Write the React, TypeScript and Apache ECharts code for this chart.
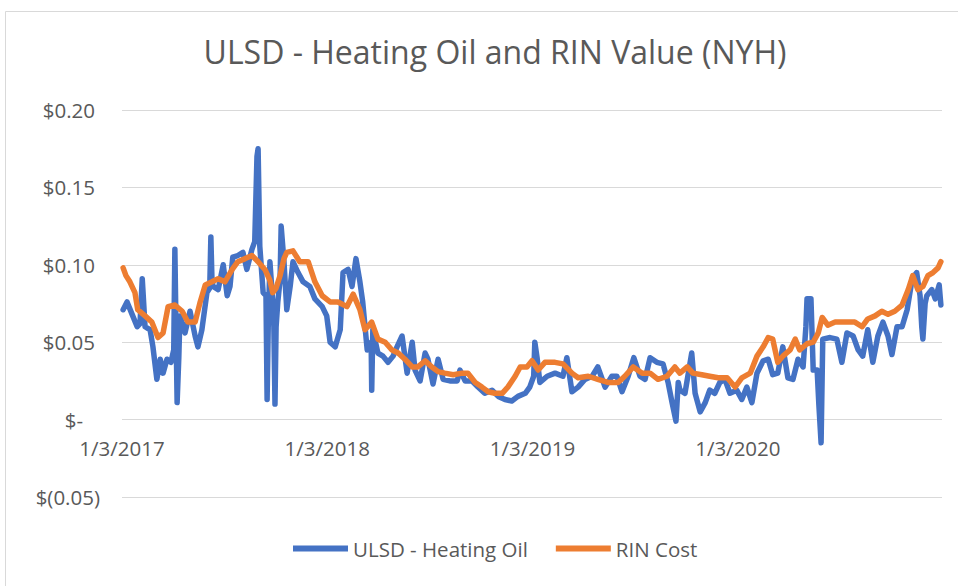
import React, { useEffect, useRef } from "react";
import * as echarts from "echarts";

// Day offsets since 1/3/2017 and values ($/gal)
const ulsdDays = [2, 9, 18, 27, 32, 36, 41, 50, 55, 62, 68, 73, 80, 87, 92, 94, 96, 98, 101, 103, 112, 121, 130, 135, 142, 151, 156, 158, 160, 162, 171, 180, 187, 192, 197, 206, 215, 222, 231, 236, 240, 242, 245, 251, 256, 258, 260, 263, 268, 270, 272, 274, 277, 281, 283, 288, 293, 299, 304, 313, 322, 334, 343, 356, 364, 370, 379, 388, 393, 402, 409, 416, 423, 428, 436, 443, 444, 446, 455, 464, 473, 482, 489, 498, 507, 516, 521, 530, 539, 544, 553, 562, 571, 583, 596, 601, 610, 622, 633, 645, 658, 669, 681, 693, 704, 717, 725, 732, 734, 738, 743, 756, 770, 784, 791, 800, 811, 823, 836, 846, 859, 871, 880, 889, 900, 910, 921, 930, 939, 951, 962, 971, 978, 985, 989, 992, 1001, 1013, 1019, 1028, 1037, 1045, 1054, 1063, 1072, 1081, 1093, 1102, 1111, 1120, 1129, 1140, 1149, 1157, 1166, 1175, 1184, 1193, 1202, 1211, 1216, 1218, 1225, 1229, 1236, 1239, 1243, 1246, 1259, 1271, 1280, 1289, 1300, 1309, 1317, 1326, 1335, 1344, 1353, 1362, 1369, 1378, 1387, 1396, 1405, 1413, 1419, 1422, 1424, 1428, 1431, 1440, 1446, 1453, 1456];
const ulsdValues = [0.071, 0.076, 0.068, 0.060, 0.062, 0.091, 0.060, 0.058, 0.047, 0.026, 0.039, 0.030, 0.039, 0.037, 0.045, 0.110, 0.060, 0.011, 0.040, 0.067, 0.056, 0.070, 0.054, 0.047, 0.058, 0.082, 0.085, 0.118, 0.090, 0.086, 0.084, 0.100, 0.080, 0.086, 0.105, 0.106, 0.108, 0.097, 0.110, 0.115, 0.170, 0.175, 0.112, 0.082, 0.080, 0.013, 0.060, 0.102, 0.076, 0.060, 0.010, 0.060, 0.076, 0.090, 0.125, 0.102, 0.071, 0.086, 0.102, 0.095, 0.089, 0.086, 0.078, 0.073, 0.067, 0.050, 0.047, 0.058, 0.095, 0.097, 0.086, 0.104, 0.089, 0.076, 0.045, 0.050, 0.019, 0.058, 0.043, 0.041, 0.037, 0.041, 0.047, 0.054, 0.030, 0.050, 0.032, 0.025, 0.043, 0.039, 0.023, 0.039, 0.026, 0.025, 0.025, 0.032, 0.025, 0.025, 0.021, 0.017, 0.019, 0.015, 0.013, 0.012, 0.015, 0.017, 0.021, 0.028, 0.050, 0.040, 0.024, 0.028, 0.030, 0.028, 0.040, 0.018, 0.021, 0.026, 0.028, 0.034, 0.021, 0.028, 0.028, 0.018, 0.028, 0.040, 0.028, 0.026, 0.040, 0.037, 0.036, 0.024, 0.011, -0.001, 0.024, 0.019, 0.017, 0.043, 0.017, 0.005, 0.011, 0.019, 0.017, 0.024, 0.026, 0.017, 0.019, 0.013, 0.021, 0.011, 0.030, 0.038, 0.039, 0.029, 0.030, 0.047, 0.027, 0.026, 0.039, 0.034, 0.060, 0.078, 0.078, 0.032, 0.032, 0.010, -0.015, 0.052, 0.053, 0.052, 0.037, 0.056, 0.054, 0.045, 0.041, 0.058, 0.037, 0.054, 0.063, 0.054, 0.042, 0.060, 0.060, 0.071, 0.091, 0.095, 0.080, 0.060, 0.052, 0.075, 0.080, 0.084, 0.078, 0.087, 0.074];

const rinDays = [2, 7, 14, 23, 28, 41, 53, 64, 73, 82, 94, 107, 117, 130, 139, 148, 160, 171, 183, 196, 206, 219, 231, 242, 254, 263, 268, 274, 281, 288, 293, 304, 316, 331, 343, 356, 370, 384, 400, 411, 423, 432, 444, 455, 468, 480, 491, 503, 516, 526, 539, 551, 562, 574, 589, 605, 615, 628, 640, 651, 663, 676, 686, 699, 708, 720, 729, 740, 752, 770, 784, 800, 811, 829, 846, 864, 882, 894, 909, 925, 939, 953, 969, 983, 992, 1005, 1015, 1031, 1045, 1060, 1076, 1090, 1102, 1117, 1129, 1140, 1149, 1157, 1166, 1175, 1188, 1197, 1205, 1218, 1229, 1238, 1245, 1255, 1268, 1280, 1291, 1303, 1316, 1326, 1339, 1351, 1362, 1374, 1387, 1398, 1406, 1415, 1424, 1433, 1442, 1451, 1456];
const rinValues = [0.098, 0.093, 0.089, 0.082, 0.071, 0.067, 0.063, 0.053, 0.056, 0.073, 0.074, 0.070, 0.063, 0.063, 0.076, 0.087, 0.089, 0.091, 0.089, 0.097, 0.102, 0.104, 0.106, 0.102, 0.097, 0.090, 0.082, 0.085, 0.093, 0.104, 0.108, 0.109, 0.102, 0.102, 0.089, 0.080, 0.076, 0.076, 0.073, 0.081, 0.071, 0.058, 0.063, 0.052, 0.050, 0.045, 0.043, 0.039, 0.034, 0.034, 0.038, 0.034, 0.031, 0.030, 0.029, 0.030, 0.030, 0.024, 0.021, 0.018, 0.017, 0.017, 0.021, 0.028, 0.034, 0.034, 0.038, 0.032, 0.037, 0.037, 0.036, 0.030, 0.027, 0.028, 0.026, 0.024, 0.024, 0.028, 0.034, 0.030, 0.030, 0.026, 0.028, 0.034, 0.030, 0.034, 0.030, 0.029, 0.028, 0.027, 0.027, 0.021, 0.027, 0.030, 0.041, 0.047, 0.053, 0.052, 0.037, 0.041, 0.045, 0.052, 0.045, 0.049, 0.050, 0.056, 0.066, 0.061, 0.063, 0.063, 0.063, 0.063, 0.060, 0.065, 0.067, 0.070, 0.068, 0.070, 0.074, 0.084, 0.093, 0.084, 0.086, 0.093, 0.095, 0.098, 0.102];

const seriesNames = ["ULSD - Heating Oil", "RIN Cost"];
const titleText = "ULSD - Heating Oil and RIN Value (NYH)";
const START = Date.UTC(2017, 0, 3);
const DAY_MAX = 1458; // 12/31/2020

const FONT = "Open Sans";
const GREY = "#595959";

function fmtDate(days: number) {
  const d = new Date(START + Math.round(days) * 86400000);
  return `${d.getUTCMonth() + 1}/${d.getUTCDate()}/${d.getUTCFullYear()}`;
}

function fmtMoney(v: number) {
  if (Math.abs(v) < 1e-9) return "{z|$-}";
  if (v < 0) return `{n|$(${Math.abs(v).toFixed(2)})}`;
  return `{p|$${v.toFixed(2)}}`;
}

const GRID_TOP = 110;
const GRID_BOTTOM = 89;
const Y_MIN = -0.05;
const Y_MAX = 0.2;

export default function App() {
  const ref = useRef<HTMLDivElement>(null);
  useEffect(() => {
    if (!ref.current) return;
    const chart = echarts.init(ref.current, undefined, { renderer: "svg" });
    const labelStyle = { fontFamily: FONT, fontSize: 20.5, color: GREY };
    const plotH = 586 - GRID_TOP - GRID_BOTTOM;
    // move the category labels up to the zero line (axis crosses at 0)
    const zeroOffset = -(plotH * (0 - Y_MIN)) / (Y_MAX - Y_MIN);
    chart.setOption({
      animation: false,
      backgroundColor: "#ffffff",
      textStyle: { fontFamily: FONT },
      title: {
        text: titleText,
        left: 490,
        top: 30,
        textAlign: "center",
        textStyle: { fontFamily: FONT, fontSize: 32, fontWeight: "normal", color: GREY },
      },
      graphic: [
        {
          type: "rect",
          shape: { x: 5.5, y: 11.5, width: 1000, height: 700 },
          style: { fill: "none", stroke: "#d9d9d9", lineWidth: 1 },
          silent: true,
          z: -1,
        },
      ],
      legend: {
        data: seriesNames,
        left: 288,
        top: 533,
        icon: "rect",
        itemWidth: 55,
        itemHeight: 6,
        itemGap: 28,
        textStyle: { fontFamily: FONT, fontSize: 20.5, color: GREY },
      },
      grid: { left: 122, right: 16, top: GRID_TOP, bottom: GRID_BOTTOM, containLabel: false },
      xAxis: {
        type: "value",
        min: 0,
        max: DAY_MAX,
        interval: 365,
        offset: zeroOffset,
        axisLine: { show: false, onZero: false },
        axisTick: { show: false },
        splitLine: { show: false },
        axisLabel: {
          ...labelStyle,
          margin: 18,
          showMaxLabel: false,
          formatter: (v: number) => fmtDate(v),
        },
      },
      yAxis: {
        type: "value",
        min: Y_MIN,
        max: Y_MAX,
        interval: 0.05,
        axisLine: { show: false, onZero: false },
        axisTick: { show: false },
        splitLine: { lineStyle: { color: "#d9d9d9", width: 1 } },
        axisLabel: {
          margin: 22,
          formatter: fmtMoney,
          rich: {
            p: { ...labelStyle, padding: [0, 5, 0, 0] },
            z: { ...labelStyle, padding: [0, 17, 0, 0] },
            n: { ...labelStyle },
          },
        },
      },
      series: [
        {
          name: seriesNames[0],
          type: "line",
          showSymbol: false,
          data: ulsdDays.map((d, i) => [d, ulsdValues[i]]),
          lineStyle: { color: "#4472C4", width: 5.5, cap: "round", join: "round" },
          itemStyle: { color: "#4472C4" },
        },
        {
          name: seriesNames[1],
          type: "line",
          showSymbol: false,
          data: rinDays.map((d, i) => [d, rinValues[i]]),
          lineStyle: { color: "#ED7D31", width: 5.5, cap: "round", join: "round" },
          itemStyle: { color: "#ED7D31" },
        },
      ],
    });
    return () => chart.dispose();
  }, []);
  return (
    <div
      ref={ref}
      style={{ position: "fixed", left: 0, top: 0, width: 958, height: 586 }}
    />
  );
}
